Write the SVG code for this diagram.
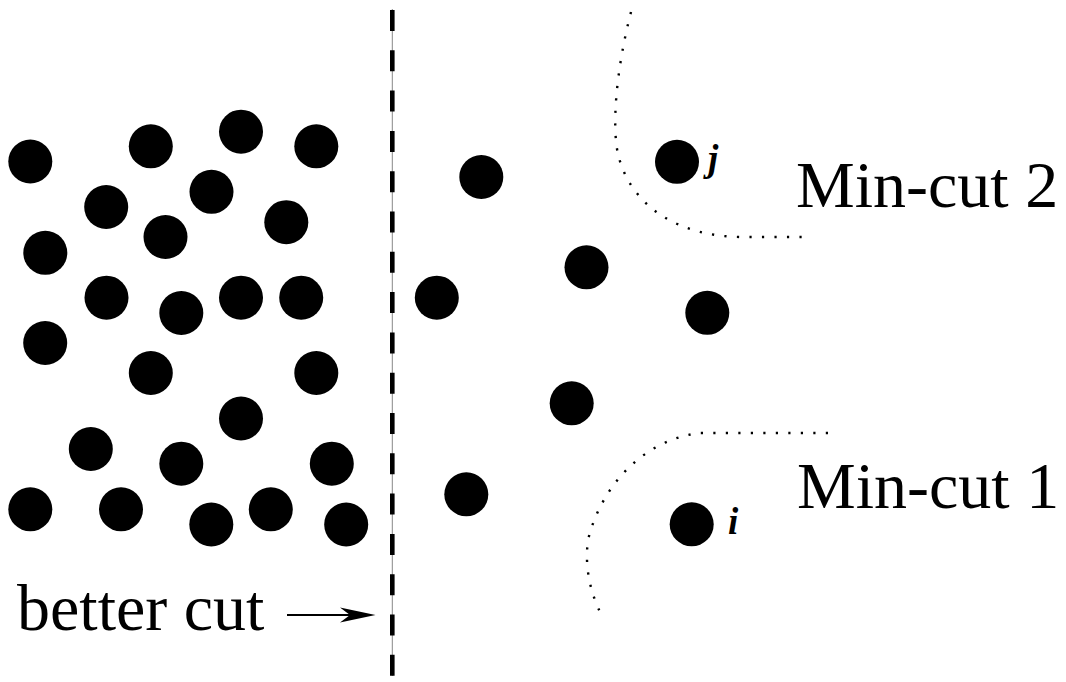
<svg xmlns="http://www.w3.org/2000/svg" width="1066" height="682" viewBox="0 0 1066 682">
<style>
.n{fill:#000}
.t{font-family:"Liberation Serif","Times New Roman",serif;fill:#000}
.lbl{font-size:66px}
.v{font-size:37px;font-style:italic;font-weight:bold}
.dot{fill:none;stroke:#000;stroke-width:2.4;stroke-dasharray:2.2 10.3}
</style>
<defs>
<circle id="c" r="22"/>
</defs>
<rect width="1066" height="682" fill="#fff"/>
<g id="connectors">
<line x1="392.3" y1="9" x2="392.3" y2="676" stroke="#888" stroke-width="1"/>
<line x1="392.3" y1="10" x2="392.3" y2="676" stroke="#000" stroke-width="4.6" stroke-dasharray="21 19.3"/>
<path class="dot" d="M631,12 C616,70 611,130 619,158 C633,208 680,236 740,237 L807,237"/>
<path class="dot" d="M828,433 L700,433 C640,440 600,490 588,540 C584,570 592,595 600,612"/>
<g id="arrow">
<line x1="287" y1="615" x2="362" y2="615" stroke="#000" stroke-width="2.2"/>
<path d="M375.5,615 L340,607.5 L350,615 L340,622.5 Z" fill="#000"/>
</g>
</g>
<g id="left-nodes" class="n">
<g id="n1"><use href="#c" x="30.3" y="161.5"/></g>
<g id="n2"><use href="#c" x="150.8" y="146.3"/></g>
<g id="n3"><use href="#c" x="241" y="131.7"/></g>
<g id="n4"><use href="#c" x="316.3" y="146.3"/></g>
<g id="n5"><use href="#c" x="106.2" y="207"/></g>
<g id="n6"><use href="#c" x="211.5" y="191.8"/></g>
<g id="n7"><use href="#c" x="286.3" y="222.2"/></g>
<g id="n8"><use href="#c" x="165.5" y="237"/></g>
<g id="n9"><use href="#c" x="45.3" y="252.8"/></g>
<g id="n10"><use href="#c" x="106.5" y="297.7"/></g>
<g id="n11"><use href="#c" x="181.3" y="313"/></g>
<g id="n12"><use href="#c" x="241" y="297.7"/></g>
<g id="n13"><use href="#c" x="301.2" y="297.7"/></g>
<g id="n14"><use href="#c" x="45.2" y="343"/></g>
<g id="n15"><use href="#c" x="150.8" y="373"/></g>
<g id="n16"><use href="#c" x="316.3" y="373"/></g>
<g id="n17"><use href="#c" x="241" y="418.5"/></g>
<g id="n18"><use href="#c" x="90.8" y="449"/></g>
<g id="n19"><use href="#c" x="181.3" y="463.7"/></g>
<g id="n20"><use href="#c" x="331.8" y="463.7"/></g>
<g id="n21"><use href="#c" x="30.3" y="509.3"/></g>
<g id="n22"><use href="#c" x="121" y="509.3"/></g>
<g id="n23"><use href="#c" x="211.3" y="524.5"/></g>
<g id="n24"><use href="#c" x="270.8" y="509.3"/></g>
<g id="n25"><use href="#c" x="346.2" y="524.5"/></g>
</g>
<g id="right-nodes" class="n">
<g id="r1"><use href="#c" x="481.3" y="177"/></g>
<g id="node-j"><use href="#c" x="677" y="161.8"/><text class="t v" x="708" y="171">j</text></g>
<g id="r3"><use href="#c" x="586.5" y="267.3"/></g>
<g id="r4"><use href="#c" x="436.8" y="297.7"/></g>
<g id="r5"><use href="#c" x="707.3" y="312.8"/></g>
<g id="r6"><use href="#c" x="571.7" y="403.3"/></g>
<g id="r7"><use href="#c" x="466.3" y="494.3"/></g>
<g id="node-i"><use href="#c" x="691.7" y="524.3"/><text class="t v" x="728" y="534">i</text></g>
</g>
<g id="labels">
<text class="t lbl" x="796" y="206.7">Min-cut 2</text>
<text class="t lbl" x="797" y="508.3">Min-cut 1</text>
<text class="t lbl" x="17" y="630">better cut</text>
</g>
</svg>
